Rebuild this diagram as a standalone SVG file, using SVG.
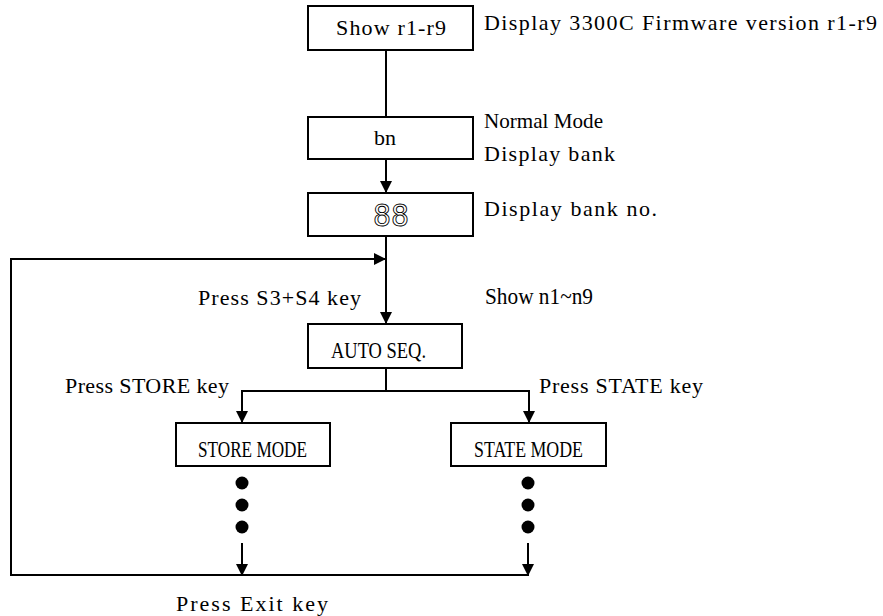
<svg xmlns="http://www.w3.org/2000/svg" width="883" height="616" viewBox="0 0 883 616">
<style>
  .box { fill: #ffffff; stroke: #000000; stroke-width: 2; }
  .ln { fill: none; stroke: #000000; stroke-width: 2; }
  .arr { fill: none; stroke: #000000; stroke-width: 2; marker-end: url(#ah); }
  text { font-family: "Liberation Serif", "Times New Roman", serif; font-size: 22px; fill: #000000; }
  .cond { font-size: 24px; }
  .seg { font-family: "DejaVu Sans Mono", monospace; font-size: 30px; fill: #ffffff; stroke: #000000; stroke-width: 0.9; }
  .dot { fill: #000000; }
</style>
<defs>
  <marker id="ah" markerUnits="userSpaceOnUse" markerWidth="12" markerHeight="12" refX="12" refY="6" orient="auto">
    <path d="M0,0 L12,6 L0,12 z" fill="#000000"/>
  </marker>
</defs>

<g id="connectors">
  <line class="ln" x1="386" y1="50" x2="386" y2="117"/>
  <line class="arr" x1="386" y1="159" x2="386" y2="193"/>
  <line class="arr" x1="386" y1="236" x2="386" y2="324"/>
  <polyline class="arr" points="11,575 11,259 386,259"/>
  <line class="ln" x1="386" y1="368" x2="386" y2="391"/>
  <polyline class="arr" points="386,391 242,391 242,423"/>
  <polyline class="arr" points="386,391 529,391 529,423"/>
  <line class="arr" x1="242" y1="543" x2="242" y2="576"/>
  <line class="arr" x1="528" y1="543" x2="528" y2="576"/>
  <line class="ln" x1="10" y1="575" x2="528" y2="575"/>
</g>

<g id="node-show">
  <rect class="box" x="308" y="6" width="165" height="44"/>
  <text x="336" y="35" textLength="110" lengthAdjust="spacing">Show r1-r9</text>
</g>
<g id="note-firmware">
  <text x="484" y="30" textLength="393" lengthAdjust="spacing">Display 3300C Firmware version r1-r9</text>
</g>

<g id="node-bn">
  <rect class="box" x="308" y="117" width="165" height="42"/>
  <text x="374" y="145" textLength="22" lengthAdjust="spacing">bn</text>
</g>
<g id="note-normal">
  <text x="484" y="128" textLength="119" lengthAdjust="spacingAndGlyphs">Normal Mode</text>
  <text x="484" y="161" textLength="131" lengthAdjust="spacing">Display bank</text>
</g>

<g id="node-88">
  <rect class="box" x="308" y="193" width="165" height="43"/>
  <text class="seg" x="373" y="226" textLength="36" lengthAdjust="spacingAndGlyphs">88</text>
</g>
<g id="note-bankno">
  <text x="484" y="216" textLength="173" lengthAdjust="spacing">Display bank no.</text>
</g>

<g id="label-s3s4">
  <text x="198" y="305" textLength="163" lengthAdjust="spacing">Press S3+S4 key</text>
</g>
<g id="label-shown">
  <text class="cond" x="485" y="304" textLength="108" lengthAdjust="spacingAndGlyphs">Show n1~n9</text>
</g>

<g id="node-auto">
  <rect class="box" x="308" y="324" width="154" height="44"/>
  <text class="cond" x="331" y="358" textLength="95" lengthAdjust="spacingAndGlyphs">AUTO SEQ.</text>
</g>

<g id="label-store">
  <text x="65" y="393" textLength="164" lengthAdjust="spacing">Press STORE key</text>
</g>
<g id="label-state">
  <text x="539" y="393" textLength="164" lengthAdjust="spacing">Press STATE key</text>
</g>

<g id="node-store">
  <rect class="box" x="176" y="423" width="154" height="43"/>
  <text class="cond" x="198" y="457" textLength="109" lengthAdjust="spacingAndGlyphs">STORE MODE</text>
  <circle class="dot" cx="242" cy="483" r="6.5"/>
  <circle class="dot" cx="242" cy="505" r="6.5"/>
  <circle class="dot" cx="242" cy="527" r="6.5"/>
</g>

<g id="node-state">
  <rect class="box" x="451" y="423" width="155" height="43"/>
  <text class="cond" x="474" y="457" textLength="109" lengthAdjust="spacingAndGlyphs">STATE MODE</text>
  <circle class="dot" cx="528" cy="483" r="6.5"/>
  <circle class="dot" cx="528" cy="505" r="6.5"/>
  <circle class="dot" cx="528" cy="527" r="6.5"/>
</g>

<g id="label-exit">
  <text x="176" y="611" textLength="152" lengthAdjust="spacing">Press Exit key</text>
</g>
</svg>
